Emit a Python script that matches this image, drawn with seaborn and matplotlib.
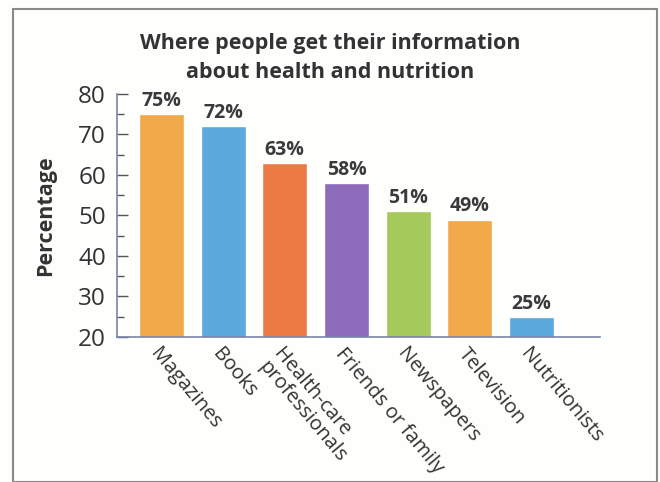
import matplotlib
matplotlib.use("Agg")
import matplotlib.pyplot as plt
from matplotlib.patches import Rectangle
from matplotlib.ticker import MultipleLocator
import seaborn as sns
import pandas as pd

categories = ["Magazines", "Books", "Health-care\nprofessionals", "Friends or family",
              "Newspapers", "Television", "Nutritionists"]
values = [75, 72, 63, 58, 51, 49, 25]
bar_colors = ["#F2A94A", "#5CA9DD", "#EC7A45", "#8C6CBB", "#A5C95B", "#F2A94A", "#5CA9DD"]
y_ticks = [20, 30, 40, 50, 60, 70, 80]

df = pd.DataFrame({"source": categories, "pct": values})

sns.set_theme(style="white")
plt.rcParams["font.family"] = ["Open Sans", "DejaVu Sans"]

fig = plt.figure(figsize=(6.6, 4.82), dpi=100)
fig.patch.set_facecolor("#FEFEFC")
ax = fig.add_axes([117 / 660, 1 - 337 / 482, (600 - 117) / 660, (337 - 94) / 482])
ax.set_facecolor("none")

sns.barplot(data=df, x="source", y="pct", hue="source", palette=bar_colors,
            legend=False, width=0.73, ax=ax, saturation=1)

ax.set_ylim(20, 80)
ax.set_xlim(-0.72, 7.11)
ax.set_yticks(y_ticks)
ax.yaxis.set_minor_locator(MultipleLocator(5))
ax.tick_params(axis="y", which="major", direction="in", length=8, width=1,
               color="#555555", labelsize=17.5, labelcolor="#333333", pad=8, left=True)
ax.tick_params(axis="y", which="minor", direction="in", length=5, width=1,
               color="#555555", left=True)
ax.tick_params(axis="x", length=0, pad=5)

for side in ["top", "right"]:
    ax.spines[side].set_visible(False)
for side in ["left", "bottom"]:
    ax.spines[side].set_color("#7A84A8")
    ax.spines[side].set_linewidth(1.2)

ax.set_xticks(range(len(categories)))
ax.set_xticklabels(categories, rotation=-50, ha="left", va="top",
                   rotation_mode="anchor", fontsize=14.5, color="#333333",
                   linespacing=1.0)
ax.set_xlabel("")
ax.set_ylabel("Percentage", fontsize=15.5, fontweight="bold", color="#333333", labelpad=16)

for bar, v in zip(ax.patches, values):
    ax.text(bar.get_x() + bar.get_width() / 2, v + 0.8, f"{v}%",
            ha="center", va="bottom", fontsize=14, fontweight="bold", color="#3A3A3A")

fig.text(0.5, 1 - 58 / 482, "Where people get their information\nabout health and nutrition",
         ha="center", va="center", fontsize=15.5, fontweight="bold", color="#333333",
         linespacing=1.45)

fig.add_artist(Rectangle((13 / 660, 0.0), (657 - 13) / 660, 1 - 9 / 482,
                         transform=fig.transFigure, fill=False,
                         edgecolor="#8A8A8A", linewidth=1.5))

fig.savefig("out.png", dpi=100, facecolor=fig.get_facecolor())
